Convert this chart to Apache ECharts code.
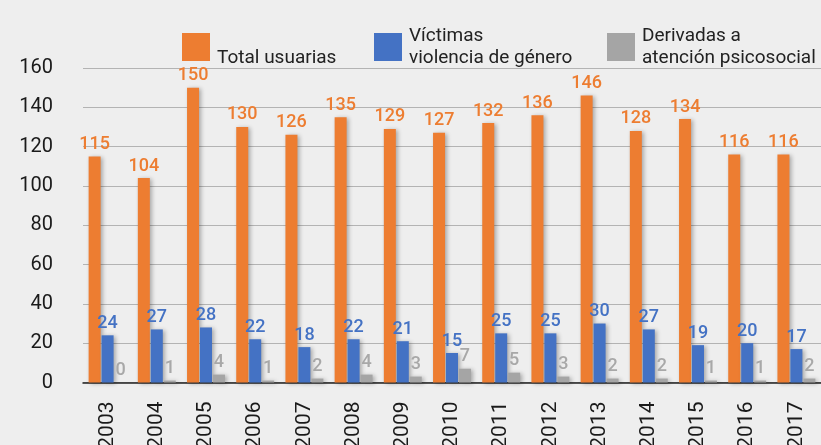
<!DOCTYPE html>
<html>
<head>
<meta charset="utf-8">
<script src="https://cdn.jsdelivr.net/npm/echarts@6/dist/echarts.min.js"></script>
<style>
  html, body { margin: 0; padding: 0; background: #eeeeee; }
  #chart { width: 821px; height: 445px; }
</style>
</head>
<body>
<div id="chart"></div>
<script>
var years = ['2003', '2004', '2005', '2006', '2007', '2008', '2009', '2010', '2011', '2012', '2013', '2014', '2015', '2016', '2017'];
var totalUsuarias = [115, 104, 150, 130, 126, 135, 129, 127, 132, 136, 146, 128, 134, 116, 116];
var victimas = [24, 27, 28, 22, 18, 22, 21, 15, 25, 25, 30, 27, 19, 20, 17];
var derivadas = [0, 1, 4, 1, 2, 4, 3, 7, 5, 3, 2, 2, 1, 1, 2];

var names = ['Total usuarias', 'Víctimas violencia de género', 'Derivadas a atención psicosocial'];
var legendText = {
  'Total usuarias': '\nTotal usuarias',
  'Víctimas violencia de género': 'Víctimas\nviolencia de género',
  'Derivadas a atención psicosocial': 'Derivadas a\natención psicosocial'
};
var colors = ['#ED7D31', '#4472C4', '#A5A5A5'];
var labelColors = ['#ED7D31', '#4472C4', '#A8A8A8'];

var font = 'Roboto, "DejaVu Sans", sans-serif';

function makeLegend(name, left) {
  return {
    data: [name],
    left: left,
    top: 21,
    icon: 'rect',
    itemWidth: 28,
    itemHeight: 28,
    padding: 0,
    selectedMode: false,
    formatter: function (n) { return legendText[n]; },
    textStyle: {
      fontFamily: font,
      fontSize: 19,
      lineHeight: 22,
      color: '#222222',
      padding: [0, 0, 8, 2]
    }
  };
}

function makeSeries(i, data) {
  return {
    name: names[i],
    type: 'bar',
    data: data,
    barWidth: 12,
    barGap: '8%',
    itemStyle: {
      color: colors[i],
      shadowColor: 'rgba(0,0,0,0.3)',
      shadowBlur: 4,
      shadowOffsetX: 2,
      shadowOffsetY: 1
    },
    label: {
      show: true,
      position: 'top',
      distance: 3,
      color: labelColors[i],
      fontFamily: font,
      fontSize: 18,
      fontWeight: 500
    }
  };
}

var chart = echarts.init(document.getElementById('chart'));
chart.setOption({
  backgroundColor: '#eeeeee',
  animation: false,
  legend: [
    makeLegend(names[0], 182),
    makeLegend(names[1], 374),
    makeLegend(names[2], 607)
  ],
  grid: { left: 83, right: 0, top: 68, bottom: 62.5, outerBoundsMode: 'none', containLabel: false },
  xAxis: {
    type: 'category',
    data: years,
    axisLine: { lineStyle: { color: '#222222', width: 1.5 } },
    axisTick: { inside: true, length: 11, lineStyle: { color: '#222222', width: 1.2 } },
    axisLabel: {
      rotate: 90,
      margin: 19,
      fontFamily: font,
      fontSize: 21,
      color: '#1a1a1a'
    }
  },
  yAxis: {
    type: 'value',
    min: 0,
    max: 160,
    interval: 20,
    axisLine: { show: false },
    axisTick: { show: false },
    splitLine: { lineStyle: { color: '#b3b3b3', width: 1.2 } },
    axisLabel: {
      margin: 30,
      fontFamily: font,
      fontSize: 20,
      color: '#1a1a1a'
    }
  },
  series: [
    makeSeries(0, totalUsuarias),
    makeSeries(1, victimas),
    makeSeries(2, derivadas)
  ]
});
</script>
</body>
</html>
